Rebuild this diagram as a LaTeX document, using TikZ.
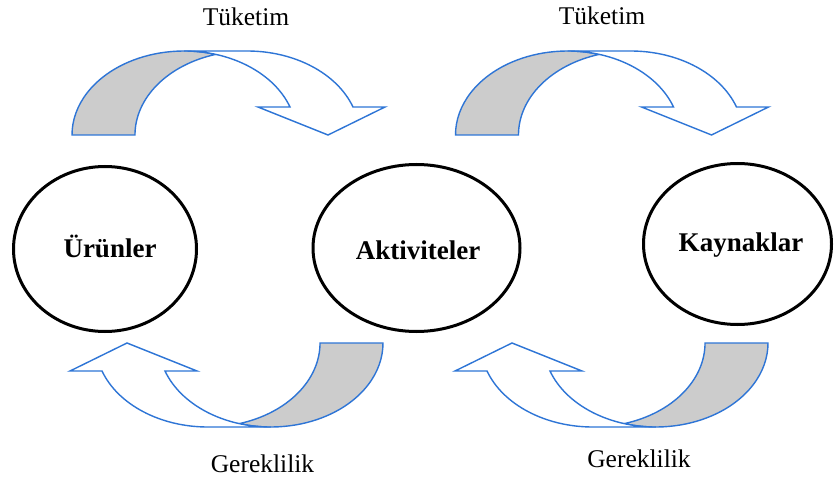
\documentclass[tikz,border=0pt]{standalone}
\usepackage{fontspec}
\setmainfont{Liberation Serif}
\usetikzlibrary{shapes.geometric}

\definecolor{arrowblue}{RGB}{46,117,214}
\definecolor{bandgray}{RGB}{204,204,204}

\tikzset{
  band/.style={draw=arrowblue, line width=1.4pt, line join=miter},
  stage/.style={ellipse, draw=black, line width=3pt, inner sep=0pt},
  stagelabel/.style={font=\fontsize{27}{32}\selectfont\bfseries, anchor=base},
  flowlabel/.style={font=\fontsize{25.5}{30}\selectfont, anchor=base},
  % curved block arrow built from two equal half-ellipses offset by the band width:
  % the twisted underside (left, shaded) and the front band ending in the head (right)
  pics/bentarrow/.style={code={
    \path[band, fill=bandgray]
      (72,-135) arc[start angle=180, end angle=73.7, x radius=112.2, y radius=84]
      arc[start angle=106.3, end angle=180, x radius=112.2, y radius=84]
      -- cycle;
    \path[band, fill=white]
      (184.2,-51) -- (247.2,-51)
      arc[start angle=90, end angle=19.47, x radius=112.2, y radius=84]
      -- (385,-107) -- (328,-135) -- (258,-107) -- (290,-107)
      arc[start angle=19.47, end angle=90, x radius=112.2, y radius=84]
      -- cycle;
  }}
}

\begin{document}
\begin{tikzpicture}[x=1pt, y=1pt]
  \useasboundingbox[fill=white] (0,0) rectangle (835,-484);

  % consumption arrows (top) and requirement arrows (bottom)
  \pic at (0,0) {bentarrow};
  \pic at (383.5,0) {bentarrow};
  \pic[rotate=180] at (455,-478) {bentarrow};
  \pic[rotate=180] at (840,-478) {bentarrow};

  % the three stages
  \node[stage, minimum width=183pt, minimum height=165pt] (urun) at (105,-249) {};
  \node[stage, minimum width=207pt, minimum height=167pt] (akt) at (416.5,-248) {};
  \node[stage, minimum width=188pt, minimum height=161pt] (kay) at (737.5,-244) {};

  \node[stagelabel] (urunlabel) at (110,-257) {Ürünler};
  \node[stagelabel] (aktlabel) at (418,-259) {Aktiviteler};
  \node[stagelabel] (kaylabel) at (741,-251) {Kaynaklar};

  \node[flowlabel] (tuketimA) at (246,-26) {Tüketim};
  \node[flowlabel] (tuketimB) at (602,-25) {Tüketim};
  \node[flowlabel] (gereklilikA) at (262.5,-472) {Gereklilik};
  \node[flowlabel] (gereklilikB) at (639,-467) {Gereklilik};
\end{tikzpicture}
\end{document}
